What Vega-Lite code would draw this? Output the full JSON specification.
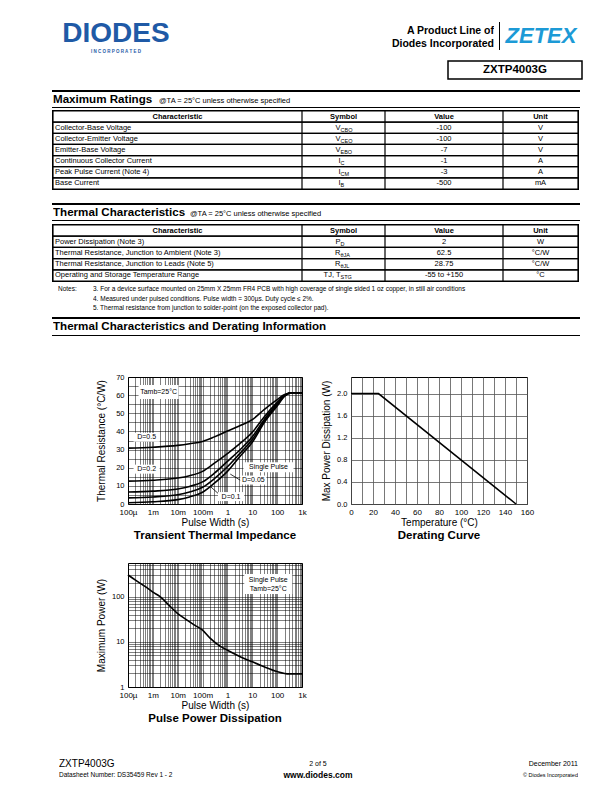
{
"$schema":"https://vega.github.io/schema/vega-lite/v6.json",
"padding":0,"background":"#ffffff","spacing":0,
"config":{"view":{"stroke":null},"font":"Liberation Sans","concat":{"spacing":0},"text":{"color":"#000"},
 "axis":{"labelColor":"#000","titleColor":"#000","labelFont":"Liberation Sans","titleFont":"Liberation Sans","titleFontWeight":"normal"},
 "title":{"font":"Liberation Sans","color":"#000"}},
"datasets":{
 "t1":[
  {"i":0,"c":"Characteristic","sm":"Symbol","ss":"","v":"Value","u":"Unit"},
  {"i":1,"c":"Collector-Base Voltage","sm":"V","ss":"CBO","v":"-100","u":"V"},
  {"i":2,"c":"Collector-Emitter Voltage","sm":"V","ss":"CEO","v":"-100","u":"V"},
  {"i":3,"c":"Emitter-Base Voltage","sm":"V","ss":"EBO","v":"-7","u":"V"},
  {"i":4,"c":"Continuous Collector Current","sm":"I","ss":"C","v":"-1","u":"A"},
  {"i":5,"c":"Peak Pulse Current (Note 4)","sm":"I","ss":"CM","v":"-3","u":"A"},
  {"i":6,"c":"Base Current","sm":"I","ss":"B","v":"-500","u":"mA"}],
 "t2":[
  {"i":0,"c":"Characteristic","sm":"Symbol","ss":"","v":"Value","u":"Unit"},
  {"i":1,"c":"Power Dissipation (Note 3)","sm":"P","ss":"D","v":"2","u":"W"},
  {"i":2,"c":"Thermal Resistance, Junction to Ambient (Note 3)","sm":"R","ss":"θJA","v":"62.5","u":"°C/W"},
  {"i":3,"c":"Thermal Resistance, Junction to Leads (Note 5)","sm":"R","ss":"θJL","v":"28.75","u":"°C/W"},
  {"i":4,"c":"Operating and Storage Temperature Range","sm":"TJ, T","ss":"STG","v":"-55 to +150","u":"°C"}],
 "notes":[
  {"n":1,"t":"3. For a device surface mounted on 25mm X 25mm FR4 PCB with high coverage of single sided 1 oz copper, in still air conditions"},
  {"n":2,"t":"4.  Measured under pulsed conditions. Pulse width = 300µs. Duty cycle ≤ 2%."},
  {"n":3,"t":"5. Thermal resistance from junction to solder-point (on the exposed collector pad)."}],
 "zth":[
  {"t":0.0001,"r":30.8,"s":"D=0.5"},{"t":0.001,"r":31.3,"s":"D=0.5"},{"t":0.01,"r":32.3,"s":"D=0.5"},{"t":0.03,"r":33.2,"s":"D=0.5"},{"t":0.1,"r":34.5,"s":"D=0.5"},{"t":0.3,"r":37,"s":"D=0.5"},{"t":1,"r":40.2,"s":"D=0.5"},{"t":3,"r":43,"s":"D=0.5"},{"t":10,"r":46.5,"s":"D=0.5"},{"t":30,"r":52,"s":"D=0.5"},{"t":100,"r":57.5,"s":"D=0.5"},{"t":200,"r":60.3,"s":"D=0.5"},{"t":400,"r":61.3,"s":"D=0.5"},{"t":1000,"r":61.3,"s":"D=0.5"},
  {"t":0.0001,"r":12.6,"s":"D=0.2"},{"t":0.001,"r":13.1,"s":"D=0.2"},{"t":0.01,"r":14.3,"s":"D=0.2"},{"t":0.03,"r":15.6,"s":"D=0.2"},{"t":0.1,"r":18,"s":"D=0.2"},{"t":0.3,"r":22.5,"s":"D=0.2"},{"t":1,"r":27.8,"s":"D=0.2"},{"t":3,"r":33,"s":"D=0.2"},{"t":10,"r":39.5,"s":"D=0.2"},{"t":30,"r":48,"s":"D=0.2"},{"t":100,"r":56,"s":"D=0.2"},{"t":200,"r":60,"s":"D=0.2"},{"t":400,"r":61.3,"s":"D=0.2"},{"t":1000,"r":61.3,"s":"D=0.2"},
  {"t":0.0001,"r":6.6,"s":"D=0.1"},{"t":0.001,"r":7.1,"s":"D=0.1"},{"t":0.01,"r":8.3,"s":"D=0.1"},{"t":0.03,"r":9.7,"s":"D=0.1"},{"t":0.1,"r":12.2,"s":"D=0.1"},{"t":0.3,"r":17,"s":"D=0.1"},{"t":1,"r":23.5,"s":"D=0.1"},{"t":3,"r":29.5,"s":"D=0.1"},{"t":10,"r":37,"s":"D=0.1"},{"t":30,"r":46.5,"s":"D=0.1"},{"t":100,"r":55.2,"s":"D=0.1"},{"t":200,"r":59.8,"s":"D=0.1"},{"t":400,"r":61.3,"s":"D=0.1"},{"t":1000,"r":61.3,"s":"D=0.1"},
  {"t":0.0001,"r":3.4,"s":"D=0.05"},{"t":0.001,"r":3.9,"s":"D=0.05"},{"t":0.01,"r":5.1,"s":"D=0.05"},{"t":0.03,"r":6.6,"s":"D=0.05"},{"t":0.1,"r":9.2,"s":"D=0.05"},{"t":0.3,"r":14,"s":"D=0.05"},{"t":1,"r":20.5,"s":"D=0.05"},{"t":3,"r":27.5,"s":"D=0.05"},{"t":10,"r":35.5,"s":"D=0.05"},{"t":30,"r":45.5,"s":"D=0.05"},{"t":100,"r":54.6,"s":"D=0.05"},{"t":200,"r":59.6,"s":"D=0.05"},{"t":400,"r":61.3,"s":"D=0.05"},{"t":1000,"r":61.3,"s":"D=0.05"},
  {"t":0.0001,"r":0.7,"s":"Single"},{"t":0.001,"r":1.2,"s":"Single"},{"t":0.01,"r":2.4,"s":"Single"},{"t":0.03,"r":3.9,"s":"Single"},{"t":0.1,"r":6.5,"s":"Single"},{"t":0.3,"r":11.5,"s":"Single"},{"t":1,"r":18,"s":"Single"},{"t":3,"r":25.8,"s":"Single"},{"t":10,"r":34,"s":"Single"},{"t":30,"r":44.8,"s":"Single"},{"t":100,"r":54,"s":"Single"},{"t":200,"r":59.4,"s":"Single"},{"t":400,"r":61.3,"s":"Single"},{"t":1000,"r":61.3,"s":"Single"}],
 "lab1":[
  {"t":0.0017,"r":61.7,"txt":"Tamb=25°C","k":"ta"},
  {"t":0.00056,"r":36.8,"txt":"D=0.5","k":"d"},
  {"t":0.00056,"r":19.2,"txt":"D=0.2","k":"d"},
  {"t":45,"r":20.2,"txt":"Single Pulse","k":"sp"},
  {"t":11,"r":13.2,"txt":"D=0.05","k":"d"},
  {"t":1.4,"r":4.1,"txt":"D=0.1","k":"d"}],
 "lead1":[
  {"t":1.3,"r":16.5,"g":"a"},{"t":3.4,"r":13,"g":"a"},
  {"t":0.2,"r":9.8,"g":"b"},{"t":0.45,"r":5.5,"g":"b"}],
 "der":[{"T":0,"P":2},{"T":25,"P":2},{"T":150,"P":0}],
 "ppd":[
  {"t":0.0001,"p":300},{"t":0.0002,"p":230},{"t":0.0005,"p":165},{"t":0.001,"p":125},{"t":0.002,"p":98},{"t":0.005,"p":60},{"t":0.01,"p":42},{"t":0.02,"p":32},{"t":0.05,"p":23},{"t":0.1,"p":18},{"t":0.2,"p":12},{"t":0.5,"p":8},{"t":1,"p":6.5},{"t":3,"p":4.8},{"t":10,"p":3.6},{"t":30,"p":2.8},{"t":100,"p":2.2},{"t":300,"p":1.95},{"t":1000,"p":1.95}],
 "lab3":[
  {"t":44,"p":190,"txt":"","k":"box"},
  {"t":44,"p":232,"txt":"Single Pulse","k":"t"},
  {"t":44,"p":145,"txt":"Tamb=25°C","k":"t"}]
},
"vconcat":[
 {"vconcat":[
  {"hconcat":[
   {"width":58,"height":55,"data":{"values":[]},"mark":"text"},
   {"bounds":"flush","vconcat":[
    {"width":116,"height":20,"data":{"values":[]},"mark":"text"},
    {"width":116,"height":28,"data":{"values":[{"t":"DIODES"}]},"mark":{"type":"text","clip":true,"baseline":"middle","fontSize":28,"fontWeight":"bold","color":"#1f5aa6"},"encoding":{"text":{"field":"t"}}},
    {"width":116,"height":7,"data":{"values":[{"t":"I N C O R P O R A T E D"}]},"mark":{"type":"text","clip":true,"baseline":"middle","fontSize":4.5,"fontWeight":"bold","color":"#1f5aa6"},"encoding":{"text":{"field":"t"}}}]},
   {"width":206,"height":55,"data":{"values":[]},"mark":"text"},
   {"bounds":"flush","vconcat":[
    {"width":114,"height":24,"data":{"values":[]},"mark":"text"},
    {"width":114,"height":14,"data":{"values":[{"t":"A Product Line of"}]},"mark":{"type":"text","clip":true,"baseline":"middle","align":"right","fontSize":10.5,"fontWeight":"bold"},"encoding":{"text":{"field":"t"},"x":{"datum":"r","type":"nominal","scale":{"type":"point","padding":0,"align":1},"axis":null}}},
    {"width":114,"height":12,"data":{"values":[{"t":"Diodes Incorporated"}]},"mark":{"type":"text","clip":true,"baseline":"middle","align":"right","fontSize":10.5,"fontWeight":"bold"},"encoding":{"text":{"field":"t"},"x":{"datum":"r","type":"nominal","scale":{"type":"point","padding":0,"align":1},"axis":null}}},
    {"width":114,"height":5,"data":{"values":[]},"mark":"text"}]},
   {"vconcat":[
    {"width":10,"height":22,"data":{"values":[]},"mark":"text"},
    {"bounds":"flush","hconcat":[
     {"width":5,"height":28,"data":{"values":[]},"mark":"text"},
     {"width":1,"height":28,"data":{"values":[]},"mark":"text","view":{"fill":"#000","stroke":null}},
     {"width":4,"height":28,"data":{"values":[]},"mark":"text"}]},
    {"width":10,"height":5,"data":{"values":[]},"mark":"text"}]},
   {"bounds":"flush","vconcat":[
    {"width":74,"height":22,"data":{"values":[]},"mark":"text"},
    {"width":74,"height":28,"data":{"values":[{"t":"ZETEX"}]},"mark":{"type":"text","clip":true,"baseline":"middle","fontSize":22,"fontWeight":"bold","fontStyle":"italic","color":"#1c9ad6"},"encoding":{"text":{"field":"t"}}},
    {"width":74,"height":5,"data":{"values":[]},"mark":"text"}]},
   {"width":34,"height":55,"data":{"values":[]},"mark":"text"}]},
  {"hconcat":[
   {"width":447,"height":33,"data":{"values":[]},"mark":"text"},
   {"bounds":"flush","vconcat":[
    {"width":134,"height":6,"data":{"values":[]},"mark":"text"},
    {"width":134,"height":18,"view":{"stroke":"#000","strokeWidth":1.5},"data":{"values":[{"t":"ZXTP4003G"}]},"mark":{"type":"text","clip":true,"baseline":"middle","fontSize":11.5,"fontWeight":"bold"},"encoding":{"text":{"field":"t"}}},
    {"width":134,"height":9,"data":{"values":[]},"mark":"text"}]},
   {"width":31,"height":33,"data":{"values":[]},"mark":"text"}]}
 ]},
 {"vconcat":[
  {"width":612,"height":2,"data":{"values":[]},"mark":"text"},
  {"bounds":"flush","hconcat":[{"width":52,"height":2,"data":{"values":[]},"mark":"text"},{"width":528,"height":2,"data":{"values":[]},"mark":"text","view":{"fill":"#000","stroke":null}},{"width":32,"height":2,"data":{"values":[]},"mark":"text"}]},
  {"bounds":"flush","hconcat":[
   {"width":53,"height":15,"data":{"values":[]},"mark":"text"},
   {"width":106,"height":15,"data":{"values":[{"t":"Maximum Ratings"}]},"mark":{"type":"text","clip":true,"baseline":"middle","align":"left","fontSize":11.6,"fontWeight":"bold"},"encoding":{"text":{"field":"t"},"x":{"datum":"l","type":"nominal","scale":{"type":"point","padding":0,"align":0},"axis":null}}},
   {"width":300,"height":15,"data":{"values":[{"t":"@TA = 25°C unless otherwise specified"}]},"mark":{"type":"text","clip":true,"baseline":"alphabetic","dy":3.5,"align":"left","fontSize":7.5},"encoding":{"text":{"field":"t"},"x":{"datum":"l","type":"nominal","scale":{"type":"point","padding":0,"align":0},"axis":null}}},
   {"width":153,"height":15,"data":{"values":[]},"mark":"text"}]},
  {"bounds":"flush","hconcat":[{"width":52,"height":1,"data":{"values":[]},"mark":"text"},{"width":528,"height":1,"data":{"values":[]},"mark":"text","view":{"fill":"#000","stroke":null}},{"width":32,"height":1,"data":{"values":[]},"mark":"text"}]},
  {"width":612,"height":2,"data":{"values":[]},"mark":"text"}
 ]},
 {"bounds":"flush","hconcat":[{"width":52,"height":1,"data":{"values":[]},"mark":"text"},{"width":527,"height":1,"data":{"values":[]},"mark":"text","view":{"fill":"#000","stroke":null}},{"width":33,"height":1,"data":{"values":[]},"mark":"text"}]},
 {"bounds":"flush","hconcat":[
  {"width":52,"height":78,"data":{"values":[]},"mark":"text"},
  {"width":1,"height":78,"data":{"values":[]},"mark":"text","view":{"fill":"#000","stroke":null}},
  {"width":249,"height":78,"data":{"name":"t1"},"encoding":{"y":{"field":"i","type":"ordinal","scale":{"type":"band","paddingInner":0,"paddingOuter":0},"axis":null}},"layer":[
    {"mark":{"type":"rect","clip":true,"filled":false,"color":"#000","strokeWidth":1.2}},
    {"transform":[{"filter":"datum.i == 0"}],"mark":{"type":"text","clip":true,"baseline":"middle","fontSize":7.5,"fontWeight":"bold"},"encoding":{"text":{"field":"c"}}},
    {"transform":[{"filter":"datum.i > 0"}],"mark":{"type":"text","clip":true,"baseline":"middle","align":"left","dx":2,"fontSize":7.5},"encoding":{"text":{"field":"c"},"x":{"datum":"l","type":"nominal","scale":{"type":"point","padding":0,"align":0},"axis":null}}}]},
  {"width":83,"height":78,"data":{"name":"t1"},"encoding":{"y":{"field":"i","type":"ordinal","scale":{"type":"band","paddingInner":0,"paddingOuter":0},"axis":null}},"layer":[
    {"mark":{"type":"rect","clip":true,"filled":false,"color":"#000","strokeWidth":1.2}},
    {"transform":[{"filter":"datum.i == 0"}],"mark":{"type":"text","clip":true,"baseline":"middle","fontSize":7.5,"fontWeight":"bold"},"encoding":{"text":{"field":"sm"}}},
    {"transform":[{"filter":"datum.i > 0"}],"mark":{"type":"text","clip":true,"baseline":"middle","align":"right","dx":-3,"fontSize":7.5},"encoding":{"text":{"field":"sm"}}},
    {"transform":[{"filter":"datum.i > 0"}],"mark":{"type":"text","clip":true,"baseline":"middle","align":"left","dx":-3,"dy":2,"fontSize":5.5},"encoding":{"text":{"field":"ss"}}}]},
  {"width":118,"height":78,"data":{"name":"t1"},"encoding":{"y":{"field":"i","type":"ordinal","scale":{"type":"band","paddingInner":0,"paddingOuter":0},"axis":null}},"layer":[
    {"mark":{"type":"rect","clip":true,"filled":false,"color":"#000","strokeWidth":1.2}},
    {"transform":[{"filter":"datum.i == 0"}],"mark":{"type":"text","clip":true,"baseline":"middle","fontSize":7.5,"fontWeight":"bold"},"encoding":{"text":{"field":"v"}}},
    {"transform":[{"filter":"datum.i > 0"}],"mark":{"type":"text","clip":true,"baseline":"middle","fontSize":7.5},"encoding":{"text":{"field":"v"}}}]},
  {"width":75,"height":78,"data":{"name":"t1"},"encoding":{"y":{"field":"i","type":"ordinal","scale":{"type":"band","paddingInner":0,"paddingOuter":0},"axis":null}},"layer":[
    {"mark":{"type":"rect","clip":true,"filled":false,"color":"#000","strokeWidth":1.2}},
    {"transform":[{"filter":"datum.i == 0"}],"mark":{"type":"text","clip":true,"baseline":"middle","fontSize":7.5,"fontWeight":"bold"},"encoding":{"text":{"field":"u"}}},
    {"transform":[{"filter":"datum.i > 0"}],"mark":{"type":"text","clip":true,"baseline":"middle","fontSize":7.5},"encoding":{"text":{"field":"u"}}}]},
  {"width":1,"height":78,"data":{"values":[]},"mark":"text","view":{"fill":"#000","stroke":null}},
  {"width":33,"height":78,"data":{"values":[]},"mark":"text"}
 ]},
 {"bounds":"flush","hconcat":[{"width":52,"height":1,"data":{"values":[]},"mark":"text"},{"width":527,"height":1,"data":{"values":[]},"mark":"text","view":{"fill":"#000","stroke":null}},{"width":33,"height":1,"data":{"values":[]},"mark":"text"}]},
 {"width":612,"height":13,"data":{"values":[]},"mark":"text"},
 {"vconcat":[
  {"bounds":"flush","hconcat":[{"width":52,"height":2,"data":{"values":[]},"mark":"text"},{"width":528,"height":2,"data":{"values":[]},"mark":"text","view":{"fill":"#000","stroke":null}},{"width":32,"height":2,"data":{"values":[]},"mark":"text"}]},
  {"bounds":"flush","hconcat":[
   {"width":53,"height":15,"data":{"values":[]},"mark":"text"},
   {"width":137,"height":15,"data":{"values":[{"t":"Thermal Characteristics"}]},"mark":{"type":"text","clip":true,"baseline":"middle","align":"left","fontSize":11.6,"fontWeight":"bold"},"encoding":{"text":{"field":"t"},"x":{"datum":"l","type":"nominal","scale":{"type":"point","padding":0,"align":0},"axis":null}}},
   {"width":300,"height":15,"data":{"values":[{"t":"@TA = 25°C unless otherwise specified"}]},"mark":{"type":"text","clip":true,"baseline":"alphabetic","dy":3.5,"align":"left","fontSize":7.5},"encoding":{"text":{"field":"t"},"x":{"datum":"l","type":"nominal","scale":{"type":"point","padding":0,"align":0},"axis":null}}},
   {"width":122,"height":15,"data":{"values":[]},"mark":"text"}]},
  {"bounds":"flush","hconcat":[{"width":52,"height":1,"data":{"values":[]},"mark":"text"},{"width":528,"height":1,"data":{"values":[]},"mark":"text","view":{"fill":"#000","stroke":null}},{"width":32,"height":1,"data":{"values":[]},"mark":"text"}]},
  {"width":612,"height":3,"data":{"values":[]},"mark":"text"}
 ]},
 {"bounds":"flush","hconcat":[{"width":52,"height":1,"data":{"values":[]},"mark":"text"},{"width":527,"height":1,"data":{"values":[]},"mark":"text","view":{"fill":"#000","stroke":null}},{"width":33,"height":1,"data":{"values":[]},"mark":"text"}]},
 {"bounds":"flush","hconcat":[
  {"width":52,"height":56,"data":{"values":[]},"mark":"text"},
  {"width":1,"height":56,"data":{"values":[]},"mark":"text","view":{"fill":"#000","stroke":null}},
  {"width":249,"height":56,"data":{"name":"t2"},"encoding":{"y":{"field":"i","type":"ordinal","scale":{"type":"band","paddingInner":0,"paddingOuter":0},"axis":null}},"layer":[
    {"mark":{"type":"rect","clip":true,"filled":false,"color":"#000","strokeWidth":1.2}},
    {"transform":[{"filter":"datum.i == 0"}],"mark":{"type":"text","clip":true,"baseline":"middle","fontSize":7.5,"fontWeight":"bold"},"encoding":{"text":{"field":"c"}}},
    {"transform":[{"filter":"datum.i > 0"}],"mark":{"type":"text","clip":true,"baseline":"middle","align":"left","dx":2,"fontSize":7.5},"encoding":{"text":{"field":"c"},"x":{"datum":"l","type":"nominal","scale":{"type":"point","padding":0,"align":0},"axis":null}}}]},
  {"width":83,"height":56,"data":{"name":"t2"},"encoding":{"y":{"field":"i","type":"ordinal","scale":{"type":"band","paddingInner":0,"paddingOuter":0},"axis":null}},"layer":[
    {"mark":{"type":"rect","clip":true,"filled":false,"color":"#000","strokeWidth":1.2}},
    {"transform":[{"filter":"datum.i == 0"}],"mark":{"type":"text","clip":true,"baseline":"middle","fontSize":7.5,"fontWeight":"bold"},"encoding":{"text":{"field":"sm"}}},
    {"transform":[{"filter":"datum.i > 0"}],"mark":{"type":"text","clip":true,"baseline":"middle","align":"right","dx":-3,"fontSize":7.5},"encoding":{"text":{"field":"sm"}}},
    {"transform":[{"filter":"datum.i > 0"}],"mark":{"type":"text","clip":true,"baseline":"middle","align":"left","dx":-3,"dy":2,"fontSize":5.5},"encoding":{"text":{"field":"ss"}}}]},
  {"width":118,"height":56,"data":{"name":"t2"},"encoding":{"y":{"field":"i","type":"ordinal","scale":{"type":"band","paddingInner":0,"paddingOuter":0},"axis":null}},"layer":[
    {"mark":{"type":"rect","clip":true,"filled":false,"color":"#000","strokeWidth":1.2}},
    {"transform":[{"filter":"datum.i == 0"}],"mark":{"type":"text","clip":true,"baseline":"middle","fontSize":7.5,"fontWeight":"bold"},"encoding":{"text":{"field":"v"}}},
    {"transform":[{"filter":"datum.i > 0"}],"mark":{"type":"text","clip":true,"baseline":"middle","fontSize":7.5},"encoding":{"text":{"field":"v"}}}]},
  {"width":75,"height":56,"data":{"name":"t2"},"encoding":{"y":{"field":"i","type":"ordinal","scale":{"type":"band","paddingInner":0,"paddingOuter":0},"axis":null}},"layer":[
    {"mark":{"type":"rect","clip":true,"filled":false,"color":"#000","strokeWidth":1.2}},
    {"transform":[{"filter":"datum.i == 0"}],"mark":{"type":"text","clip":true,"baseline":"middle","fontSize":7.5,"fontWeight":"bold"},"encoding":{"text":{"field":"u"}}},
    {"transform":[{"filter":"datum.i > 0"}],"mark":{"type":"text","clip":true,"baseline":"middle","fontSize":7.5},"encoding":{"text":{"field":"u"}}}]},
  {"width":1,"height":56,"data":{"values":[]},"mark":"text","view":{"fill":"#000","stroke":null}},
  {"width":33,"height":56,"data":{"values":[]},"mark":"text"}
 ]},
 {"bounds":"flush","hconcat":[{"width":52,"height":1,"data":{"values":[]},"mark":"text"},{"width":527,"height":1,"data":{"values":[]},"mark":"text","view":{"fill":"#000","stroke":null}},{"width":33,"height":1,"data":{"values":[]},"mark":"text"}]},
 {"width":612,"height":2,"data":{"values":[]},"mark":"text"},
 {"hconcat":[
  {"width":58,"height":29,"data":{"values":[]},"mark":"text"},
  {"bounds":"flush","vconcat":[
   {"width":35,"height":10,"data":{"values":[{"t":"Notes:"}]},"mark":{"type":"text","clip":true,"baseline":"middle","align":"left","fontSize":6.5},"encoding":{"text":{"field":"t"},"x":{"datum":"l","type":"nominal","scale":{"type":"point","padding":0,"align":0},"axis":null}}},
   {"width":35,"height":19,"data":{"values":[]},"mark":"text"}]},
  {"width":480,"height":29,"data":{"name":"notes"},"mark":{"type":"text","clip":true,"baseline":"middle","align":"left","fontSize":6.5},"encoding":{"text":{"field":"t"},"y":{"field":"n","type":"ordinal","scale":{"type":"band","paddingInner":0,"paddingOuter":0},"axis":null},"x":{"datum":"l","type":"nominal","scale":{"type":"point","padding":0,"align":0},"axis":null}}},
  {"width":39,"height":29,"data":{"values":[]},"mark":"text"}
 ]},
 {"width":612,"height":4,"data":{"values":[]},"mark":"text"},
 {"vconcat":[
  {"bounds":"flush","hconcat":[{"width":52,"height":2,"data":{"values":[]},"mark":"text"},{"width":528,"height":2,"data":{"values":[]},"mark":"text","view":{"fill":"#000","stroke":null}},{"width":32,"height":2,"data":{"values":[]},"mark":"text"}]},
  {"bounds":"flush","hconcat":[
   {"width":53,"height":16,"data":{"values":[]},"mark":"text"},
   {"width":400,"height":16,"data":{"values":[{"t":"Thermal Characteristics and Derating Information"}]},"mark":{"type":"text","clip":true,"baseline":"middle","align":"left","fontSize":11.6,"fontWeight":"bold"},"encoding":{"text":{"field":"t"},"x":{"datum":"l","type":"nominal","scale":{"type":"point","padding":0,"align":0},"axis":null}}},
   {"width":159,"height":16,"data":{"values":[]},"mark":"text"}]},
  {"bounds":"flush","hconcat":[{"width":52,"height":1,"data":{"values":[]},"mark":"text"},{"width":528,"height":1,"data":{"values":[]},"mark":"text","view":{"fill":"#000","stroke":null}},{"width":32,"height":1,"data":{"values":[]},"mark":"text"}]}
 ]},
 {"width":612,"height":36,"data":{"values":[]},"mark":"text"},
 {"bounds":"flush","hconcat":[
  {"width":128,"height":1,"data":{"values":[]},"mark":"text"},
  {"width":174,"height":127,"view":{"stroke":"#000","strokeWidth":1},
   "title":{"text":"Transient Thermal Impedance","orient":"bottom","anchor":"middle","fontSize":11.5,"fontWeight":"bold","offset":3},
   "encoding":{
    "x":{"field":"t","type":"quantitative","scale":{"type":"log","domain":[0.0001,1000],"nice":false},
     "axis":{"title":"Pulse Width (s)","values":[0.0001,0.0002,0.0003,0.0004,0.0005,0.0006,0.0007,0.0008,0.0009,0.001,0.002,0.003,0.004,0.005,0.006,0.007,0.008,0.009,0.01,0.02,0.03,0.04,0.05,0.06,0.07,0.08,0.09,0.1,0.2,0.3,0.4,0.5,0.6,0.7,0.8,0.9,1,2,3,4,5,6,7,8,9,10,20,30,40,50,60,70,80,90,100,200,300,400,500,600,700,800,900,1000],
      "labelExpr":"indexof([0.0001,0.001,0.01,0.1,1,10,100,1000], datum.value) >= 0 ? ['100µ','1m','10m','100m','1','10','100','1k'][indexof([0.0001,0.001,0.01,0.1,1,10,100,1000], datum.value)] : ''",
      "labelOverlap":false,"labelFlush":false,"grid":true,"gridColor":"#000","gridWidth":0.5,"ticks":false,"domain":false,"labelPadding":4,"labelFontSize":8,"titleFontSize":10,"titlePadding":1}},
    "y":{"field":"r","type":"quantitative","scale":{"domain":[0,70],"nice":false},
     "axis":{"title":"Thermal Resistance (°C/W)","values":[0,5,10,15,20,25,30,35,40,45,50,55,60,65,70],"labelExpr":"datum.value % 10 == 0 ? format(datum.value,'d') : ''","labelOverlap":false,"labelFlush":false,"grid":true,"gridColor":"#000","gridWidth":0.5,"ticks":false,"domain":false,"labelPadding":4,"labelFontSize":7.5,"titleFontSize":10,"titlePadding":9}}},
   "layer":[
    {"data":{"name":"zth"},"mark":{"type":"line","color":"#000","strokeWidth":1.6,"interpolate":"monotone"},"encoding":{"detail":{"field":"s"}}},
    {"data":{"name":"lead1"},"mark":{"type":"line","color":"#000","strokeWidth":0.8},"encoding":{"detail":{"field":"g"}}},
    {"data":{"name":"lab1"},"transform":[{"filter":"datum.k == 'd'"}],"mark":{"type":"point","shape":"M-2.9,-1H2.9V1H-2.9Z","size":81,"filled":true,"color":"#fff","opacity":1}},
    {"data":{"name":"lab1"},"transform":[{"filter":"datum.k == 'sp'"}],"mark":{"type":"point","shape":"M-5,-1H5V1H-5Z","size":100,"filled":true,"color":"#fff","opacity":1}},
    {"data":{"name":"lab1"},"transform":[{"filter":"datum.k == 'ta'"}],"mark":{"type":"point","shape":"M-2.86,-1H2.86V1H-2.86Z","size":196,"filled":true,"color":"#fff","opacity":1}},
    {"data":{"name":"lab1"},"mark":{"type":"text","baseline":"middle","fontSize":7},"encoding":{"text":{"field":"txt"}}}]},
  {"width":49,"height":1,"data":{"values":[]},"mark":"text"},
  {"width":176,"height":127,"view":{"stroke":"#000","strokeWidth":1},
   "title":{"text":"Derating Curve","orient":"bottom","anchor":"middle","fontSize":11.5,"fontWeight":"bold","offset":3},
   "data":{"name":"der"},
   "mark":{"type":"line","color":"#000","strokeWidth":1.6},
   "encoding":{
    "x":{"field":"T","type":"quantitative","scale":{"domain":[0,160],"nice":false},
     "axis":{"title":"Temperature (°C)","values":[0,10,20,30,40,50,60,70,80,90,100,110,120,130,140,150,160],"labelExpr":"datum.value % 20 == 0 ? datum.label : ''","labelOverlap":false,"labelFlush":false,"grid":true,"gridColor":"#555","gridWidth":0.8,"ticks":false,"domain":false,"labelPadding":4,"labelFontSize":8,"titleFontSize":10,"titlePadding":1}},
    "y":{"field":"P","type":"quantitative","scale":{"domain":[0,2.3],"nice":false},
     "axis":{"title":"Max Power Dissipation (W)","values":[0,0.4,0.8,1.2,1.6,2],"format":".1f","labelOverlap":false,"labelFlush":false,"grid":true,"gridColor":"#555","gridWidth":0.8,"ticks":false,"domain":false,"labelPadding":4,"labelFontSize":7.5,"titleFontSize":10,"titlePadding":5}}}}
 ]},
 {"width":612,"height":18,"data":{"values":[]},"mark":"text"},
 {"bounds":"flush","hconcat":[
  {"width":128,"height":1,"data":{"values":[]},"mark":"text"},
  {"width":174,"height":124,"view":{"stroke":"#000","strokeWidth":1},
   "title":{"text":"Pulse Power Dissipation","orient":"bottom","anchor":"middle","fontSize":11.5,"fontWeight":"bold","offset":3},
   "encoding":{
    "x":{"field":"t","type":"quantitative","scale":{"type":"log","domain":[0.0001,1000],"nice":false},
     "axis":{"title":"Pulse Width (s)","values":[0.0001,0.0002,0.0003,0.0004,0.0005,0.0006,0.0007,0.0008,0.0009,0.001,0.002,0.003,0.004,0.005,0.006,0.007,0.008,0.009,0.01,0.02,0.03,0.04,0.05,0.06,0.07,0.08,0.09,0.1,0.2,0.3,0.4,0.5,0.6,0.7,0.8,0.9,1,2,3,4,5,6,7,8,9,10,20,30,40,50,60,70,80,90,100,200,300,400,500,600,700,800,900,1000],
      "labelExpr":"indexof([0.0001,0.001,0.01,0.1,1,10,100,1000], datum.value) >= 0 ? ['100µ','1m','10m','100m','1','10','100','1k'][indexof([0.0001,0.001,0.01,0.1,1,10,100,1000], datum.value)] : ''",
      "labelOverlap":false,"labelFlush":false,"grid":true,"gridColor":"#000","gridWidth":0.5,"ticks":false,"domain":false,"labelPadding":4,"labelFontSize":8,"titleFontSize":10,"titlePadding":1}},
    "y":{"field":"p","type":"quantitative","scale":{"type":"log","domain":[1,550],"nice":false},
     "axis":{"title":"Maximum Power (W)","values":[1,2,3,4,5,6,7,8,9,10,20,30,40,50,60,70,80,90,100,200,300,400,500],"labelExpr":"indexof([1,10,100], datum.value) >= 0 ? format(datum.value,'d') : ''","labelOverlap":false,"labelFlush":false,"grid":true,"gridColor":"#000","gridWidth":0.5,"ticks":false,"domain":false,"labelPadding":4,"labelFontSize":7.5,"titleFontSize":10,"titlePadding":5}}},
   "layer":[
    {"data":{"name":"ppd"},"mark":{"type":"line","color":"#000","strokeWidth":1.6,"interpolate":"monotone"}},
    {"data":{"name":"lab3"},"transform":[{"filter":"datum.k == 'box'"}],"mark":{"type":"point","shape":"M-2.4,-1H2.4V1H-2.4Z","size":400,"filled":true,"color":"#fff","opacity":1}},
    {"data":{"name":"lab3"},"transform":[{"filter":"datum.k == 't'"}],"mark":{"type":"text","baseline":"middle","fontSize":7},"encoding":{"text":{"field":"txt"}}}]}
 ]},
 {"width":612,"height":33,"data":{"values":[]},"mark":"text"},
 {"hconcat":[
  {"width":59,"height":22,"data":{"values":[]},"mark":"text"},
  {"bounds":"flush","vconcat":[
   {"width":190,"height":12,"data":{"values":[{"t":"ZXTP4003G"}]},"mark":{"type":"text","clip":true,"baseline":"middle","align":"left","fontSize":10},"encoding":{"text":{"field":"t"},"x":{"datum":"l","type":"nominal","scale":{"type":"point","padding":0,"align":0},"axis":null}}},
   {"width":190,"height":10,"data":{"values":[{"t":"Datasheet Number: DS35459  Rev 1 - 2"}]},"mark":{"type":"text","clip":true,"baseline":"middle","align":"left","fontSize":6.5},"encoding":{"text":{"field":"t"},"x":{"datum":"l","type":"nominal","scale":{"type":"point","padding":0,"align":0},"axis":null}}}]},
  {"bounds":"flush","vconcat":[
   {"width":138,"height":12,"data":{"values":[{"t":"2 of 5"}]},"mark":{"type":"text","clip":true,"baseline":"middle","fontSize":7},"encoding":{"text":{"field":"t"}}},
   {"width":138,"height":10,"data":{"values":[{"t":"www.diodes.com"}]},"mark":{"type":"text","clip":true,"baseline":"middle","fontSize":8.5,"fontWeight":"bold"},"encoding":{"text":{"field":"t"}}}]},
  {"bounds":"flush","vconcat":[
   {"width":191,"height":12,"data":{"values":[{"t":"December 2011"}]},"mark":{"type":"text","clip":true,"baseline":"middle","align":"right","fontSize":7},"encoding":{"text":{"field":"t"},"x":{"datum":"r","type":"nominal","scale":{"type":"point","padding":0,"align":1},"axis":null}}},
   {"width":191,"height":10,"data":{"values":[{"t":"© Diodes Incorporated"}]},"mark":{"type":"text","clip":true,"baseline":"middle","align":"right","fontSize":5.5},"encoding":{"text":{"field":"t"},"x":{"datum":"r","type":"nominal","scale":{"type":"point","padding":0,"align":1},"axis":null}}}]},
  {"width":34,"height":22,"data":{"values":[]},"mark":"text"}
 ]}
]
}
